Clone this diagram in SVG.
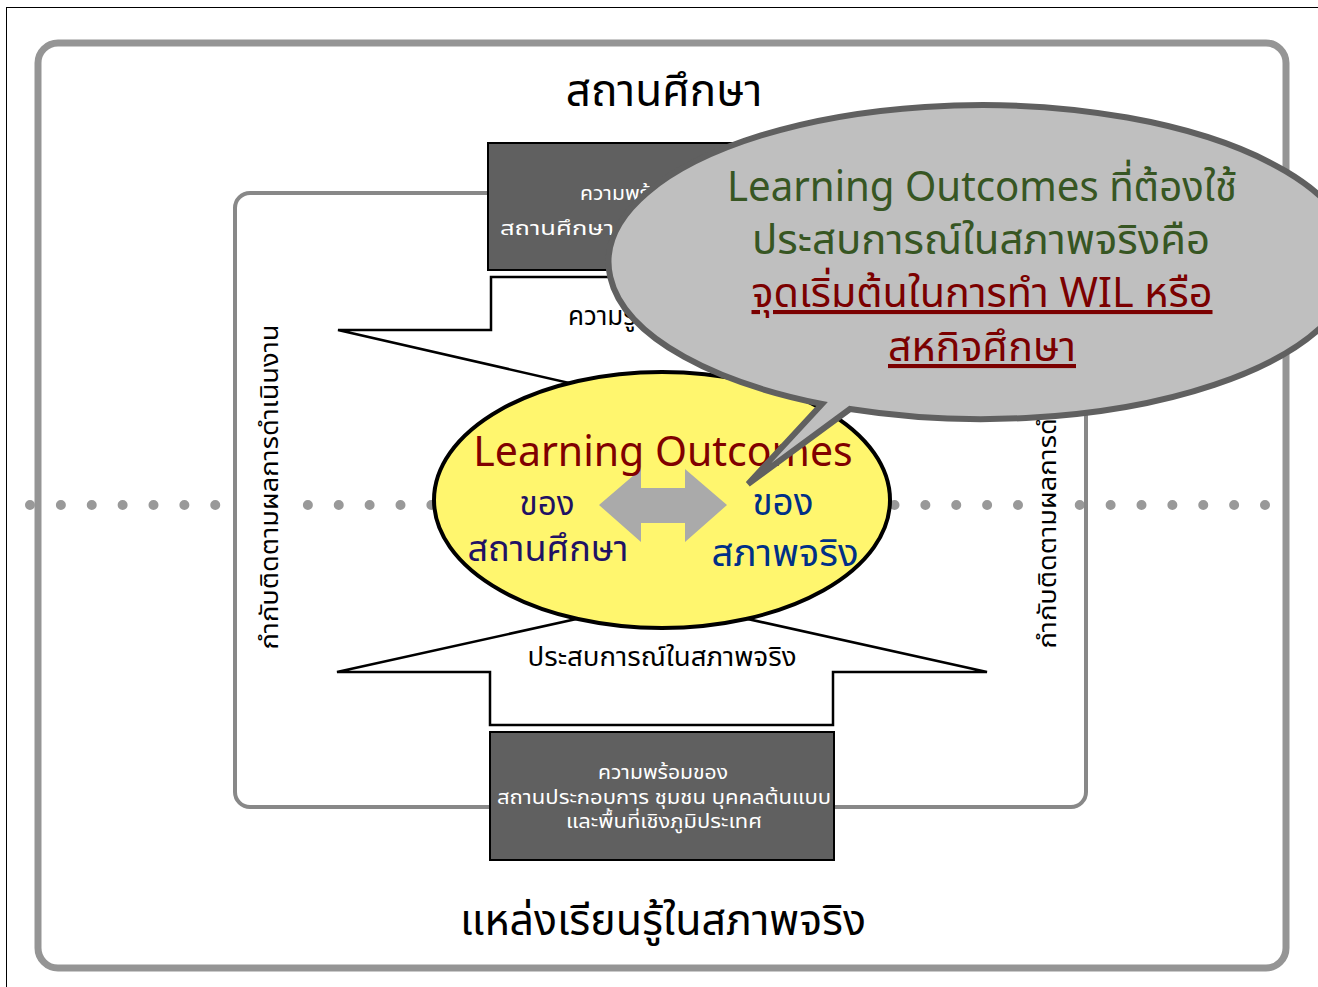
<svg xmlns="http://www.w3.org/2000/svg" width="1318" height="987" viewBox="0 0 1318 987">
<style>
.th{font-family:"Tahoma","Leelawadee UI","Noto Sans Thai","Noto Sans","DejaVu Sans",sans-serif}
.wt{fill:#ffffff;font-size:19.5px}
.box{fill:#606060;stroke:#000;stroke-width:2}
.arrow{fill:#fff;stroke:#000;stroke-width:2.5;stroke-linejoin:miter}
.gt{fill:#375623;font-size:41px}
.rt{fill:#7b0000;font-size:41px}
</style>
<rect x="0" y="0" width="1318" height="987" fill="#fff"/>
<rect x="6.5" y="7.5" width="1330" height="1000" fill="none" stroke="#000" stroke-width="1"/>
<g id="outer-frame">
<rect x="38" y="43" width="1248" height="925" rx="20" ry="20" fill="none" stroke="#959595" stroke-width="7"/>
</g>
<g id="divider">
<path d="M30,505 H1266" fill="none" stroke="#999" stroke-width="10" stroke-linecap="round" stroke-dasharray="0 30.875"/>
</g>
<g id="inner-frame">
<rect x="235" y="193" width="851" height="614" rx="15" ry="15" fill="none" stroke="#888" stroke-width="4"/>
</g>
<g id="label-left">
<rect x="239" y="320" width="60" height="335" fill="#fff"/>
<text class="th" x="270" y="487" transform="rotate(-90 270 487)" text-anchor="middle" dominant-baseline="central" font-size="25" fill="#000" textLength="325" lengthAdjust="spacingAndGlyphs">กำกับติดตามผลการดำเนินงาน</text>
</g>
<g id="label-right">
<rect x="1029" y="320" width="40" height="335" fill="#fff"/>
<text class="th" x="1048" y="486" transform="rotate(-90 1048 486)" text-anchor="middle" dominant-baseline="central" font-size="25" fill="#000" textLength="325" lengthAdjust="spacingAndGlyphs">กำกับติดตามผลการดำเนินงาน</text>
</g>
<g id="top-box">
<rect class="box" x="488" y="143" width="346" height="127"/>
<text class="th wt" x="580" y="200" textLength="130" lengthAdjust="spacingAndGlyphs">ความพร้อมของ</text>
<text class="th wt" x="500" y="235" textLength="114" lengthAdjust="spacingAndGlyphs">สถานศึกษา</text>
</g>
<g id="connectors">
<path id="top-arrow" class="arrow" d="M491,277 L830,277 L830,330 L985,330 L661,404 L338,330 L491,330 Z"/>
<text class="th" x="568" y="325" font-size="26" fill="#000">ความรู้</text>
<path id="bottom-arrow" class="arrow" d="M490,725 L833,725 L833,672 L987,672 L662,600 L337,672 L490,672 Z"/>
<text class="th" x="662" y="666" text-anchor="middle" font-size="26" fill="#000" textLength="269" lengthAdjust="spacingAndGlyphs">ประสบการณ์ในสภาพจริง</text>
</g>
<g id="bottom-box">
<rect class="box" x="490" y="732" width="344" height="128"/>
<text class="th wt" x="663" y="779" text-anchor="middle" textLength="130" lengthAdjust="spacingAndGlyphs">ความพร้อมของ</text>
<text class="th wt" x="664" y="804" text-anchor="middle" textLength="334" lengthAdjust="spacingAndGlyphs">สถานประกอบการ ชุมชน บุคคลต้นแบบ</text>
<text class="th wt" x="664" y="828" text-anchor="middle" textLength="196" lengthAdjust="spacingAndGlyphs">และพื้นที่เชิงภูมิประเทศ</text>
</g>
<g id="center-ellipse">
<ellipse cx="662" cy="500" rx="228" ry="128" fill="#fff66e" stroke="#000" stroke-width="4"/>
<path d="M599,505 L641,469 L641,488 L685,488 L685,469 L727,505 L685,542 L685,523 L641,523 L641,542 Z" fill="#aaaaaa"/>
<text class="th" x="663" y="466" text-anchor="middle" font-size="41" fill="#800000">Learning Outcomes</text>
<text class="th" x="547" y="515" text-anchor="middle" font-size="34" fill="#1f1264" textLength="55" lengthAdjust="spacingAndGlyphs">ของ</text>
<text class="th" x="548" y="561" text-anchor="middle" font-size="35" fill="#1f1264" textLength="161" lengthAdjust="spacingAndGlyphs">สถานศึกษา</text>
<text class="th" x="783" y="515" text-anchor="middle" font-size="37" fill="#003087" textLength="61" lengthAdjust="spacingAndGlyphs">ของ</text>
<text class="th" x="785" y="566" text-anchor="middle" font-size="37" fill="#003087" textLength="147" lengthAdjust="spacingAndGlyphs">สภาพจริง</text>
</g>
<g id="callout">
<path d="M822,404 L748,484 L850,409 A373,157 0 1 0 822,404 Z" fill="#bfbfbf" stroke="#606060" stroke-width="6" stroke-linejoin="miter"/>
<text class="th gt" x="982" y="201" text-anchor="middle" textLength="510" lengthAdjust="spacingAndGlyphs">Learning Outcomes ที่ต้องใช้</text>
<text class="th gt" x="981" y="254" text-anchor="middle" textLength="458" lengthAdjust="spacingAndGlyphs">ประสบการณ์ในสภาพจริงคือ</text>
<text class="th rt" x="982" y="307" text-anchor="middle" text-decoration="underline" textLength="461" lengthAdjust="spacingAndGlyphs">จุดเริ่มต้นในการทำ WIL หรือ</text>
<text class="th rt" x="982" y="361" text-anchor="middle" text-decoration="underline" textLength="188" lengthAdjust="spacingAndGlyphs">สหกิจศึกษา</text>
</g>
<g id="titles">
<text class="th" x="664" y="106" text-anchor="middle" font-size="44" fill="#000">สถานศึกษา</text>
<text class="th" x="663" y="935" text-anchor="middle" font-size="43" fill="#000" textLength="406" lengthAdjust="spacingAndGlyphs">แหล่งเรียนรู้ในสภาพจริง</text>
</g>
</svg>
